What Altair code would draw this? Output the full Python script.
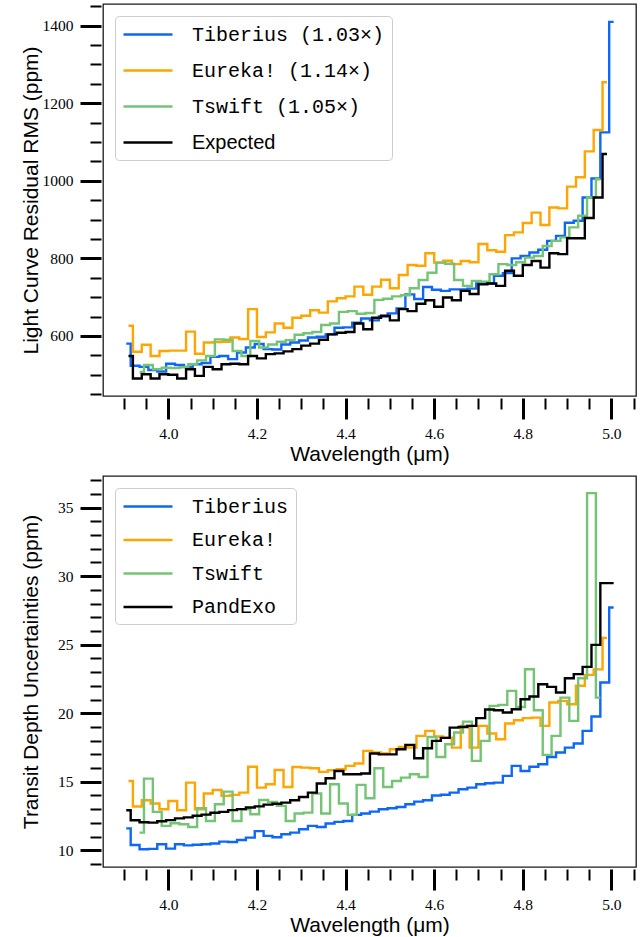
import altair as alt
import pandas as pd

# ---------------- data ----------------
WL_A = [3.905, 3.925, 3.945, 3.965, 3.985, 4.005, 4.025, 4.045, 4.065, 4.085,
        4.105, 4.125, 4.145, 4.165, 4.185, 4.205, 4.225, 4.245, 4.265, 4.285,
        4.305, 4.325, 4.345, 4.365, 4.385, 4.405, 4.425, 4.445, 4.465, 4.485,
        4.505, 4.525, 4.545, 4.565, 4.585, 4.605, 4.625, 4.645, 4.665, 4.685,
        4.705, 4.725, 4.745, 4.765, 4.785, 4.805, 4.825, 4.845, 4.865, 4.885,
        4.905, 4.925, 4.945, 4.965, 4.985, 5.005]
WL_B = [3.91, 3.93, 3.95, 3.97, 3.99, 4.01, 4.03, 4.05, 4.07, 4.09,
        4.11, 4.13, 4.15, 4.17, 4.19, 4.21, 4.23, 4.25, 4.27, 4.29,
        4.31, 4.33, 4.35, 4.37, 4.39, 4.41, 4.43, 4.45, 4.47, 4.49,
        4.51, 4.53, 4.55, 4.57, 4.59, 4.61, 4.63, 4.65, 4.67, 4.69,
        4.71, 4.73, 4.75, 4.77, 4.79, 4.81, 4.83, 4.85, 4.87, 4.89,
        4.91, 4.93, 4.95, 4.97, 4.99]
WL_C = [3.935, 3.955, 3.975, 3.995, 4.015, 4.035, 4.055, 4.075, 4.095, 4.115,
        4.135, 4.155, 4.175, 4.195, 4.215, 4.235, 4.255, 4.275, 4.295, 4.315,
        4.335, 4.355, 4.375, 4.395, 4.415, 4.435, 4.455, 4.475, 4.495, 4.515,
        4.535, 4.555, 4.575, 4.595, 4.615, 4.635, 4.655, 4.675, 4.695, 4.715,
        4.735, 4.755, 4.775, 4.795, 4.815, 4.835, 4.855, 4.875, 4.895, 4.915,
        4.935, 4.955, 4.975]

RMS_TIBERIUS = [580, 523, 520, 512, 508, 528, 525, 520, 527, 530,
                546, 548, 540, 557, 570, 579, 566, 565, 578, 583,
                588, 596, 598, 604, 621, 622, 634, 645, 640, 650,
                658, 671, 707, 695, 726, 719, 716, 720, 720, 722,
                735, 735, 755, 762, 800, 806, 815, 822, 845, 858,
                892, 897, 957, 1006, 1125, 1410]
RMS_EUREKA = [626, 559, 577, 548, 561, 562, 562, 611, 554, 583,
              584, 585, 596, 592, 669, 597, 609, 632, 621, 647,
              652, 666, 660, 689, 697, 702, 727, 706, 727, 745,
              723, 757, 783, 781, 813, 789, 794, 785, 793, 790,
              837, 821, 817, 860, 867, 891, 918, 886, 931, 929,
              985, 1009, 1076, 1131, 1254]
RMS_TSWIFT = [507, 525, 514, 518, 517, 519, 527, 537, 548, 591,
              590, 561, 548, 587, 570, 578, 585, 589, 603, 607,
              610, 628, 632, 662, 664, 657, 659, 693, 696, 702,
              705, 723, 744, 763, 789, 786, 744, 729, 742, 740,
              759, 785, 783, 790, 802, 806, 832, 845, 854, 880,
              910, 957, 1004]
RMS_EXPECTED = [548, 490, 501, 490, 501, 500, 490, 514, 497, 520,
                514, 527, 528, 527, 548, 542, 553, 555, 560, 566,
                575, 580, 590, 604, 608, 610, 632, 617, 647, 652,
                640, 669, 664, 683, 692, 675, 699, 692, 716, 708,
                733, 735, 729, 768, 755, 783, 793, 776, 813, 811,
                852, 852, 904, 957, 1069]

DEPTH_TIBERIUS = [11.6, 10.39, 10.07, 10.1, 10.44, 10.12, 10.44, 10.36, 10.4, 10.44,
                  10.5, 10.63, 10.6, 10.75, 10.92, 11.4, 11.05, 10.95, 11.17, 11.29,
                  11.53, 11.78, 11.7, 11.95, 12.07, 12.14, 12.58, 12.68, 12.82, 12.99,
                  13.07, 13.16, 13.36, 13.55, 13.65, 14.0, 14.05, 14.21, 14.45, 14.57,
                  14.82, 14.89, 14.94, 15.43, 16.16, 15.79, 16.1, 16.28, 16.81, 17.13,
                  17.49, 17.79, 18.71, 19.76, 22.24, 27.71]
DEPTH_EUREKA = [15.06, 13.19, 13.65, 13.41, 12.99, 13.6, 12.92, 14.94, 12.99, 14.14,
                14.4, 13.97, 14.04, 14.21, 16.1, 14.57, 14.82, 15.86, 14.62, 16.08,
                16.03, 15.99, 15.72, 15.84, 15.91, 16.16, 16.33, 17.25, 17.13, 17.06,
                17.37, 17.54, 17.5, 18.35, 18.71, 18.3, 18.22, 17.49, 19.08, 17.49,
                19.08, 18.52, 18.1, 19.25, 19.49, 19.64, 19.68, 19.08, 20.78, 20.9,
                20.66, 22.0, 22.8, 23.2, 25.5]
DEPTH_TSWIFT = [11.29, 15.23, 12.8, 11.78, 11.97, 11.9, 11.7, 13.07, 12.14, 13.36,
                14.28, 12.14, 12.99, 12.63, 13.67, 13.53, 13.24, 12.14, 12.68, 12.75,
                14.14, 12.68, 14.82, 13.41, 12.58, 14.77, 13.8, 15.99, 14.62, 15.06,
                15.3, 15.55, 15.35, 18.27, 16.81, 17.74, 18.59, 19.39, 16.52, 17.98,
                20.54, 20.61, 21.63, 20.46, 23.21, 20.22, 16.96, 18.35, 21.14, 19.44,
                22.55, 36.06, 21.14]
DEPTH_PANDEXO = [12.92, 12.19, 12.05, 12.02, 12.12, 12.2, 12.33, 12.4, 12.52, 12.6,
                 12.74, 12.8, 12.93, 13.0, 13.12, 13.2, 13.33, 13.4, 13.48, 13.65,
                 13.89, 14.21, 14.87, 15.26, 15.79, 15.55, 15.55, 15.6, 17.06, 17.0,
                 17.0, 17.37, 17.69, 16.72, 17.45, 17.98, 18.2, 18.95, 19.0, 19.08,
                 19.64, 20.27, 20.22, 20.05, 20.29, 21.02, 21.22, 22.12, 21.92, 21.51,
                 22.55, 22.85, 23.38, 24.99, 29.49, 29.49]

TOP_LABELS = ["Tiberius (1.03×)", "Eureka! (1.14×)", "Tswift (1.05×)", "Expected"]
BOTTOM_LABELS = ["Tiberius", "Eureka!", "Tswift", "PandExo"]
COLORS = ["#0f67f5", "#ffa500", "#74c476", "#000000"]

X_MAJOR = [4.0, 4.2, 4.4, 4.6, 4.8, 5.0]
X_MINOR = [3.9, 3.95, 4.05, 4.1, 4.15, 4.25, 4.3, 4.35, 4.45, 4.5, 4.55,
           4.65, 4.7, 4.75, 4.85, 4.9, 4.95, 5.05]
Y_TOP_MAJOR = [600, 800, 1000, 1200, 1400]
Y_TOP_MINOR = [450, 500, 550, 650, 700, 750, 850, 900, 950, 1050, 1100,
               1150, 1250, 1300, 1350, 1450]
Y_BOT_MAJOR = [10, 15, 20, 25, 30, 35]
Y_BOT_MINOR = [9, 11, 12, 13, 14, 16, 17, 18, 19, 21, 22, 23, 24, 26, 27,
               28, 29, 31, 32, 33, 34, 36, 37]
X_DOMAIN = [3.8525, 5.0555]
Y_TOP_DOMAIN = [445, 1456]
Y_BOT_DOMAIN = [8.78, 37.31]


def frame(labels, grids, values):
    rows = []
    for lab, wl, vals in zip(labels, grids, values):
        for w, v in zip(wl, vals):
            rows.append({"series": lab, "wl": w, "v": v})
    return pd.DataFrame(rows)


top_df = frame(TOP_LABELS, [WL_A, WL_B, WL_C, WL_B],
               [RMS_TIBERIUS, RMS_EUREKA, RMS_TSWIFT, RMS_EXPECTED])
bot_df = frame(BOTTOM_LABELS, [WL_A, WL_B, WL_C, WL_A],
               [DEPTH_TIBERIUS, DEPTH_EUREKA, DEPTH_TSWIFT, DEPTH_PANDEXO])

SERIF = "Liberation Serif"
SANS = "Liberation Sans"
MONO = "Liberation Mono"
LEGEND_FONT = {"expr": "datum.label == 'Expected' ? 'Liberation Sans' : 'Liberation Mono'"}


def panel(df, labels, ytitle, ydom, ymaj, ymin, h, rowpad):
    xs = alt.Scale(domain=X_DOMAIN, nice=False, zero=False)
    ys = alt.Scale(domain=ydom, nice=False, zero=False)
    x_major = alt.Axis(orient="bottom", values=X_MAJOR, format=".1f", domain=False,
                       grid=False, tickSize=21, tickWidth=3, tickColor="black",
                       offset=2, labelFont=SERIF, labelFontSize=15.5,
                       labelColor="black", labelPadding=7, labelFlush=False,
                       title="Wavelength (μm)", titleFont=SANS, titleFontSize=21,
                       titleFontWeight="normal", titleColor="black", titleY=45)
    y_major = alt.Axis(orient="left", values=ymaj, format="d", domain=False,
                       grid=False, tickSize=21, tickWidth=3, tickColor="black",
                       offset=2, labelFont=SERIF, labelFontSize=15.5,
                       labelColor="black", labelPadding=7, labelFlush=False,
                       title=ytitle, titleFont=SANS, titleFontSize=21,
                       titleFontWeight="normal", titleColor="black", titleX=-60)
    x_minor = alt.Axis(orient="bottom", values=X_MINOR, labels=False, domain=False,
                       grid=False, tickSize=11, tickWidth=2, tickColor="black",
                       offset=2, title=None)
    y_minor = alt.Axis(orient="left", values=ymin, labels=False, domain=False,
                       grid=False, tickSize=11, tickWidth=2, tickColor="black",
                       offset=2, title=None)
    color = alt.Color(
        "series:N",
        scale=alt.Scale(domain=labels, range=COLORS),
        legend=alt.Legend(title=None, orient="top-left", offset=12, padding=7,
                          fillColor="white", strokeColor="#cccccc", cornerRadius=4,
                          symbolType="M-1,0H3.9", symbolSize=400, symbolStrokeWidth=2.5,
                          labelFont=LEGEND_FONT, labelFontSize=20, labelColor="black",
                          labelOffset=47, labelLimit=400, rowPadding=rowpad),
    )
    series_layers = []
    for lab in labels:
        series_layers.append(
            alt.Chart(df)
            .transform_filter(alt.datum.series == lab)
            .mark_line(interpolate="step", strokeWidth=2.4)
            .encode(x=alt.X("wl:Q", scale=xs, axis=x_major),
                    y=alt.Y("v:Q", scale=ys, axis=y_major),
                    color=color)
        )
    lines = alt.layer(*series_layers)
    minor = alt.Chart(df).mark_line(strokeOpacity=0).encode(
        x=alt.X("wl:Q", scale=xs, axis=x_minor),
        y=alt.Y("v:Q", scale=ys, axis=y_minor),
        detail="series:N",
    )
    return alt.layer(lines, minor).resolve_axis(x="independent", y="independent").properties(
        width=533, height=h)


top = panel(top_df, TOP_LABELS, "Light Curve Residual RMS (ppm)", Y_TOP_DOMAIN,
            Y_TOP_MAJOR, Y_TOP_MINOR, 392, 14)
bottom = panel(bot_df, BOTTOM_LABELS, "Transit Depth Uncertainties (ppm)", Y_BOT_DOMAIN,
               Y_BOT_MAJOR, Y_BOT_MINOR, 391, 11.5)

chart = (
    alt.vconcat(top, bottom, spacing=80, bounds="flush")
    .resolve_scale(color="independent")
    .properties(padding={"left": 19, "top": 3, "right": 5, "bottom": 5},
                background="white")
    .configure_view(stroke="#1a1a1a", strokeWidth=1.3)
)

chart.save("out.html", embed_options={"renderer": "svg", "actions": False})
